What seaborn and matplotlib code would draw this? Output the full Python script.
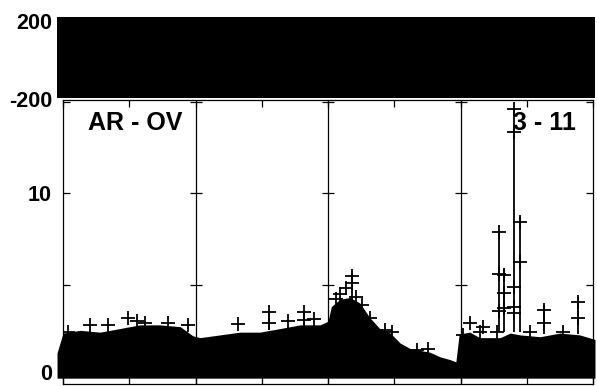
import matplotlib.pyplot as plt
import matplotlib.transforms as mtransforms
import seaborn as sns
import numpy as np
import pandas as pd

sns.set_style("ticks")
plt.rcParams['font.family'] = ['Liberation Sans', 'DejaVu Sans']
plt.rcParams['font.weight'] = 'bold'
plt.rcParams['text.color'] = 'black'
plt.rcParams['xtick.color'] = 'black'
plt.rcParams['ytick.color'] = 'black'
plt.rcParams['axes.edgecolor'] = 'black'

baseline_left = "AR - OV"
baseline_right = "3 - 11"

# phase cloud (deg) - points wrap over the whole range, so it reads as one band
phase_x = [-0.09, 8.03]
phase_hi = [218, 218]
phase_lo = [-197, -197]

# amplitude cloud: upper envelope of the dense points, and its floor
amp_x = [-0.09, 0.0, 0.26, 0.56, 0.86, 1.16, 1.46, 1.77, 1.96, 2.07, 2.37, 2.67,
         2.97, 3.28, 3.58, 3.88, 4.0, 4.05, 4.18, 4.33, 4.48, 4.63, 4.78, 4.94,
         5.09, 5.24, 5.39, 5.54, 5.69, 5.84, 5.93, 5.98, 6.14, 6.29, 6.6, 6.75,
         6.9, 7.2, 7.5, 7.8, 8.03]
amp_hi = [1.26, 2.35, 2.5, 2.4, 2.6, 2.8, 2.8, 2.7, 2.2, 2.1, 2.25, 2.4,
          2.4, 2.6, 2.8, 2.8, 3.0, 3.8, 4.2, 4.3, 4.0, 3.2, 2.6, 2.35,
          1.8, 1.5, 1.4, 1.3, 1.05, 0.9, 0.77, 2.3, 2.4, 2.1, 2.1, 2.35,
          2.25, 2.15, 2.35, 2.25, 2.0]
amp_floor = -0.12

# isolated points standing out of the cloud (incl. error-bar caps)
cross_x = [0.08, 0.41, 0.68, 0.98, 1.12, 1.24, 1.58, 1.89, 2.64, 3.11, 3.11,
           3.40, 3.64, 3.64, 3.79, 4.12, 4.18, 4.27, 4.36, 4.36, 4.42, 4.51,
           4.63, 4.86, 4.97, 5.34, 5.51, 6.04, 6.14, 6.29, 6.34, 6.55, 7.05,
           7.26, 7.26, 7.55, 7.77, 7.77,
           6.58, 6.58, 6.58, 6.66, 6.66, 6.66, 6.81, 6.81, 6.81, 6.81, 6.81,
           6.90, 6.90]
cross_y = [2.4, 2.8, 2.8, 3.2, 3.0, 2.9, 2.9, 2.8, 2.85, 3.5, 2.9,
           3.0, 3.5, 3.05, 3.1, 4.2, 4.5, 4.8, 5.5, 5.1, 4.3, 3.9,
           3.2, 2.5, 2.4, 1.4, 1.5, 2.25, 2.9, 2.4, 2.7, 2.4, 2.4,
           3.6, 2.9, 2.4, 4.05, 3.2,
           7.89, 5.59, 3.56, 5.53, 4.55, 3.73, 14.63, 13.37, 4.88, 3.78, 3.45,
           8.44, 6.25]

# error bars that rise above the cloud
spike_x = [3.11, 3.64, 4.36, 6.58, 6.66, 6.81, 6.90, 7.26, 7.77]
spike_lo = [2.5, 2.8, 4.0, 2.4, 2.4, 2.4, 2.4, 2.3, 2.3]
spike_hi = [3.5, 3.5, 5.65, 7.9, 5.86, 14.63, 8.71, 3.85, 4.3]

amp_ticks = [0, 5, 10, 15]
amp_ticklabels = ["0", "", "10", ""]
phase_ticks = [-200, 200]
time_ticks = np.arange(0, 9)
grid_ticks = [2, 4, 6]

W, H = 597, 386
fig = plt.figure(figsize=(W / 100, H / 100), dpi=100)
left, right = 63 / W, 593 / W
ax_ph = fig.add_axes([left, 1 - 100 / H, right - left, 86 / H])
ax = fig.add_axes([left, 1 - 384 / H, right - left, 284 / H])

# --- phase panel
ax_ph.fill_between(phase_x, phase_lo, phase_hi, color="black", linewidth=0,
                   clip_on=False)
ax_ph.set_xlim(0, 8)
ax_ph.set_ylim(-205.1, 235.9)
ax_ph.set_yticks(phase_ticks)
ax_ph.set_yticklabels([str(t) for t in phase_ticks], fontsize=15.5, fontweight="bold")
ax_ph.set_xticks([])
ax_ph.tick_params(axis="y", length=0, pad=8)
for s in ax_ph.spines.values():
    s.set_visible(False)
ax_ph.patch.set_alpha(0)

# --- amplitude panel
for g in grid_ticks:
    ax.axvline(g, color="black", linewidth=0.9, zorder=0)
    for t in amp_ticks[1:]:
        ax.plot([g], [t], marker="_", markersize=9, markeredgewidth=0.9,
                color="black", zorder=0)

ax.fill_between(amp_x, amp_floor, amp_hi, color="black", linewidth=0, zorder=2,
                clip_on=False)
ax.vlines(spike_x, spike_lo, spike_hi, color="black", linewidth=1.3, zorder=3)
pts = pd.DataFrame({"t": cross_x, "amp": cross_y})
sns.scatterplot(data=pts, x="t", y="amp", marker="+", s=95, color="black",
                linewidth=1.3, ax=ax, zorder=4, legend=False)

ax.set_xlim(0, 8)
ax.set_ylim(-0.44, 15.12)
ax.set_xticks(time_ticks)
ax.set_xticklabels([])
ax.set_yticks(amp_ticks)
ax.set_yticklabels(amp_ticklabels, fontsize=15.5, fontweight="bold")
ax.tick_params(axis="both", direction="in", length=5, width=0.9,
               top=True, right=True, pad=8)
for s in ax.spines.values():
    s.set_linewidth(0.9)
ax.set_xlabel("")
ax.set_ylabel("")

# the "0" label sits at the lower edge of the figure: lift it a touch
zero_lbl = ax.get_yticklabels()[0]
zero_lbl.set_transform(zero_lbl.get_transform()
                       + mtransforms.ScaledTranslation(0, 0.035, fig.dpi_scale_trans))

ax.text(0.377, 13.84, baseline_left, fontsize=18, fontweight="bold",
        ha="left", va="center")
ax.text(6.79, 13.84, baseline_right, fontsize=18, fontweight="bold",
        ha="left", va="center")

fig.savefig("out.png", dpi=100)
